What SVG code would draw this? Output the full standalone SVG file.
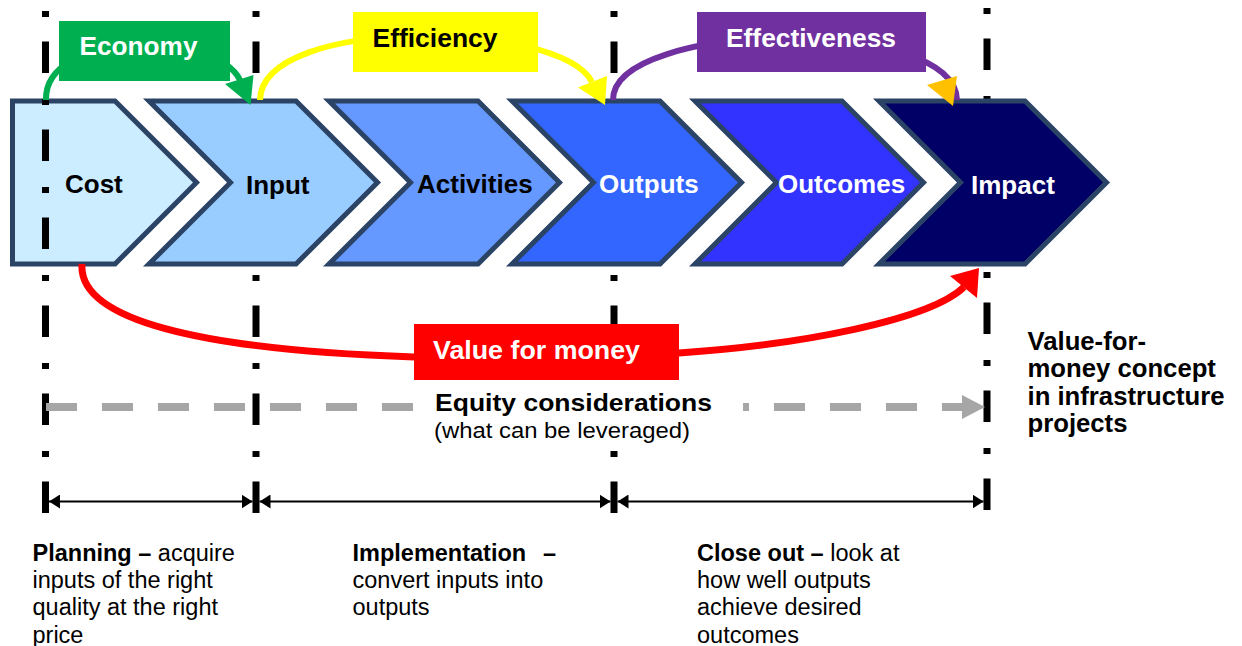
<svg xmlns="http://www.w3.org/2000/svg" width="1242" height="646" viewBox="0 0 1242 646">
<defs>
<style>
.chev{stroke:#2B4466;stroke-width:5;stroke-linejoin:miter}
.guide{fill:none;stroke:#000;stroke-width:7;stroke-dasharray:6 24.5 31.5 26}
.lbl{font-family:"Liberation Sans",Arial,sans-serif;font-weight:bold;font-size:26px}
.txt{font-family:"Liberation Sans",Arial,sans-serif;font-size:23.5px;fill:#000}
.b{font-weight:bold}
.arc{fill:none;stroke-width:6}
.dim{fill:none;stroke:#000;stroke-width:2;marker-start:url(#dimArrow);marker-end:url(#dimArrow)}
</style>
<marker id="dimArrow" viewBox="0 0 11 14" refX="11" refY="7" markerWidth="11" markerHeight="14" markerUnits="userSpaceOnUse" orient="auto-start-reverse">
<path d="M0 0 L11 7 L0 14 z" fill="#000"/>
</marker>
</defs>
<rect width="1242" height="646" fill="#fff"/>

<g id="guides-back">
<line class="guide" x1="256" y1="11" x2="256" y2="513"/>
<line class="guide" x1="614" y1="11" x2="614" y2="513"/>
<line class="guide" x1="987" y1="8" x2="987" y2="510"/>
</g>

<g id="node-cost">
<polygon class="chev" fill="#CCECFF" points="12.5,101 115,101 196.5,182.5 115,264 12.5,264"/>
<text class="lbl" x="65" y="192.7" fill="#000">Cost</text>
</g>
<g id="node-input">
<polygon class="chev" fill="#99CCFF" points="149,101 296,101 377.5,182.5 296,264 149,264 230.5,182.5"/>
<text class="lbl" x="246" y="194.3" fill="#000">Input</text>
</g>
<g id="node-activities">
<polygon class="chev" fill="#6699FF" points="329,101 478,101 559.5,182.5 478,264 329,264 410.5,182.5"/>
<text class="lbl" x="417" y="192.7" fill="#000">Activities</text>
</g>
<g id="node-outputs">
<polygon class="chev" fill="#3366FF" points="512,101 660,101 741.5,182.5 660,264 512,264 593.5,182.5"/>
<text class="lbl" x="599" y="192.7" fill="#fff">Outputs</text>
</g>
<g id="node-outcomes">
<polygon class="chev" fill="#3333FF" points="695,101 842,101 923.5,182.5 842,264 695,264 776.5,182.5"/>
<text class="lbl" x="778" y="192.7" fill="#fff">Outcomes</text>
</g>
<g id="node-impact">
<polygon class="chev" fill="#000066" points="879,101 1025,101 1106.5,182.5 1025,264 879,264 960.5,182.5"/>
<text class="lbl" x="971" y="194.3" fill="#fff">Impact</text>
</g>

<g id="guide-front">
<line class="guide" x1="45.5" y1="11" x2="45.5" y2="513"/>
</g>

<g id="connectors">
<path class="arc" stroke="#00B050" d="M46 100 C44 30 215 30 240 80"/>
<polygon fill="#00B050" points="225,84 253.5,75 250.5,105"/>
<path class="arc" stroke="#FFFF00" d="M260 100 C262 15 560 20 592 82"/>
<polygon fill="#FFFF00" points="578,87.5 607,76 605,105"/>
<path class="arc" stroke="#7030A0" d="M613 100 C613 20 955 15 957 100"/>
<polygon fill="#FFC000" points="927,85 957,76 953,106"/>
<path fill="none" stroke="#FF0000" stroke-width="7" d="M82 264 C78 320 200 350 414 357 L679 353 C800 345 930 320 964 287"/>
<polygon fill="#FF0000" points="950,276 979,268 977,298"/>
<line x1="46" y1="407" x2="964" y2="407" stroke="#A6A6A6" stroke-width="8" stroke-dasharray="31 25"/>
<polygon fill="#A6A6A6" points="962,395 985,407 962,419"/>
<path class="dim" d="M49 501.5 H252.5"/>
<path class="dim" d="M259.5 501.5 H610.5"/>
<path class="dim" d="M617.5 501.5 H983.5"/>
</g>

<g id="label-economy">
<rect x="59" y="21" width="171" height="60" fill="#00B050"/>
<text class="lbl" x="79.5" y="55" fill="#fff" textLength="118" lengthAdjust="spacingAndGlyphs">Economy</text>
</g>
<g id="label-efficiency">
<rect x="353" y="12" width="185" height="60" fill="#FFFF00"/>
<text class="lbl" x="372.5" y="46.7" fill="#000" textLength="125" lengthAdjust="spacingAndGlyphs">Efficiency</text>
</g>
<g id="label-effectiveness">
<rect x="697" y="12" width="229" height="60" fill="#7030A0"/>
<text class="lbl" x="726" y="46.7" fill="#fff" textLength="170" lengthAdjust="spacingAndGlyphs">Effectiveness</text>
</g>
<g id="label-vfm">
<rect x="414" y="324" width="265" height="56" fill="#FF0000"/>
<text class="lbl" x="433" y="359" fill="#fff" textLength="207" lengthAdjust="spacingAndGlyphs">Value for money</text>
</g>

<g id="label-equity">
<rect x="414" y="388" width="329" height="59" fill="#fff"/>
<text class="lbl" x="435" y="410.7" style="font-size:24.5px" fill="#000" textLength="277" lengthAdjust="spacingAndGlyphs">Equity considerations</text>
<text class="txt" x="434" y="438" style="font-size:22.7px" textLength="256" lengthAdjust="spacingAndGlyphs">(what can be leveraged)</text>
</g>

<g id="title">
<text class="lbl" fill="#000" style="font-size:25.7px">
<tspan x="1027.5" y="349.5">Value-for-</tspan>
<tspan x="1027.5" y="377">money concept</tspan>
<tspan x="1027.5" y="404.5">in infrastructure</tspan>
<tspan x="1027.5" y="432">projects</tspan>
</text>
</g>

<g id="phase-planning">
<text class="txt"><tspan x="32.5" y="560.7" class="b">Planning –</tspan><tspan> acquire</tspan></text>
<text class="txt"><tspan x="32.5" y="588">inputs of the right</tspan><tspan x="32.5" y="615.3">quality at the right</tspan><tspan x="32.5" y="642.5">price</tspan></text>
</g>
<g id="phase-implementation">
<text class="txt"><tspan x="352.5" y="560.7" class="b">Implementation</tspan><tspan x="543" y="560.7" class="b">–</tspan></text>
<text class="txt"><tspan x="352.5" y="588">convert inputs into</tspan><tspan x="352.5" y="615.3">outputs</tspan></text>
</g>
<g id="phase-closeout">
<text class="txt"><tspan x="697" y="560.7" class="b">Close out –</tspan><tspan> look at</tspan></text>
<text class="txt"><tspan x="697" y="588">how well outputs</tspan><tspan x="697" y="615.3">achieve desired</tspan><tspan x="697" y="642.5">outcomes</tspan></text>
</g>
</svg>
